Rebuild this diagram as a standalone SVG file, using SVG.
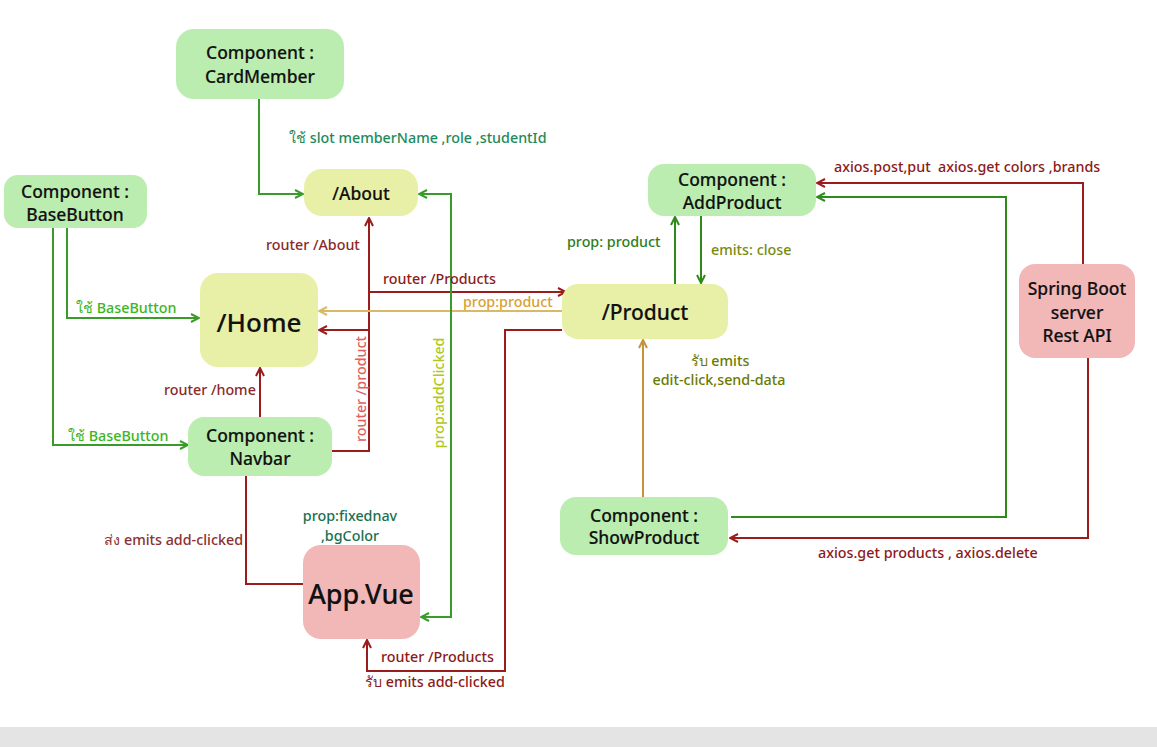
<svg xmlns="http://www.w3.org/2000/svg" width="1157" height="747" viewBox="0 0 1157 747">
<style>
text{font-family:"Noto Sans","Open Sans","DejaVu Sans",sans-serif}
.nt{font-size:17.5px;font-weight:500;fill:#111;text-anchor:middle;stroke:#111;stroke-width:0.15}
.lb{font-size:14.3px;font-weight:500}
.g{fill:#bbedb0}.y{fill:#e8f0a8}.p{fill:#f2b8b8}
.cn path{fill:none;stroke-width:2}
.r{stroke:#9b1c1c}.gr{stroke:#3a9a2a}.dg{stroke:#2e8b1a}.tn{stroke:#d9b868}.or{stroke:#c8923a}
</style>
<defs>
<marker id="ar" viewBox="0 0 10 10" refX="9" refY="5" markerWidth="10" markerHeight="10" markerUnits="userSpaceOnUse" orient="auto-start-reverse"><path d="M1,1 L9,5 L1,9" fill="none" stroke="#9b1c1c" stroke-width="2"/></marker>
<marker id="ag" viewBox="0 0 10 10" refX="9" refY="5" markerWidth="10" markerHeight="10" markerUnits="userSpaceOnUse" orient="auto-start-reverse"><path d="M1,1 L9,5 L1,9" fill="none" stroke="#3a9a2a" stroke-width="2"/></marker>
<marker id="adg" viewBox="0 0 10 10" refX="9" refY="5" markerWidth="10" markerHeight="10" markerUnits="userSpaceOnUse" orient="auto-start-reverse"><path d="M1,1 L9,5 L1,9" fill="none" stroke="#2e8b1a" stroke-width="2"/></marker>
<marker id="at" viewBox="0 0 10 10" refX="9" refY="5" markerWidth="10" markerHeight="10" markerUnits="userSpaceOnUse" orient="auto-start-reverse"><path d="M1,1 L9,5 L1,9" fill="none" stroke="#d9b868" stroke-width="2"/></marker>
<marker id="ao" viewBox="0 0 10 10" refX="9" refY="5" markerWidth="10" markerHeight="10" markerUnits="userSpaceOnUse" orient="auto-start-reverse"><path d="M1,1 L9,5 L1,9" fill="none" stroke="#c8923a" stroke-width="2"/></marker>
</defs>
<rect x="0" y="0" width="1157" height="747" fill="#fff"/>
<rect x="0" y="727" width="1157" height="20" fill="#e4e4e4"/>

<g id="connectors" class="cn">
<path class="gr" d="M259,99 V194 H303" marker-end="url(#ag)"/>
<path class="gr" d="M67,228 V318 H199" marker-end="url(#ag)"/>
<path class="gr" d="M53,228 V445 H188" marker-end="url(#ag)"/>
<path class="r" d="M260,417 V368" marker-end="url(#ar)"/>
<path class="r" d="M332,451 H369 V218" marker-end="url(#ar)"/>
<path class="r" d="M369,330 H319" marker-end="url(#ar)"/>
<path class="r" d="M369,292 H566" marker-end="url(#ar)"/>
<path class="tn" d="M562,311 H319" marker-end="url(#at)"/>
<path class="gr" d="M419,194 H451 V617 H421" marker-start="url(#ag)" marker-end="url(#ag)"/>
<path class="r" d="M562,330 H505 V671 H367 V640" marker-end="url(#ar)"/>
<path class="r" d="M246,476 V584 H303"/>
<path class="dg" d="M675,284 V217" marker-end="url(#adg)"/>
<path class="dg" d="M701,216 V283" marker-end="url(#adg)"/>
<path class="or" d="M643,497 V340" marker-end="url(#ao)"/>
<path class="r" d="M1083,265 V183 H817" marker-end="url(#ar)"/>
<path class="dg" d="M731,517 H1006 V197 H817" marker-end="url(#adg)"/>
<path class="r" d="M1088,358 V538 H730" marker-end="url(#ar)"/>
</g>

<g id="labels" class="lb">
<text x="289" y="143" fill="#1e8a5a">ใช้ slot memberName ,role ,studentId</text>
<text x="266" y="250" fill="#8b2a2a">router /About</text>
<text x="76" y="313" fill="#3cb521">ใช้ BaseButton</text>
<text x="68" y="441" fill="#3cb521">ใช้ BaseButton</text>
<text x="164" y="395" fill="#8b2a2a">router /home</text>
<text x="383" y="284" fill="#8b2020">router /Products</text>
<text x="463" y="307" fill="#d9a030">prop:product</text>
<text transform="translate(366,389) rotate(-90)" text-anchor="middle" fill="#e06060">router /product</text>
<text transform="translate(444,393) rotate(-90)" text-anchor="middle" fill="#b0c820">prop:addClicked</text>
<text x="243" y="545" text-anchor="end" fill="#8b3030">ส่ง emits add-clicked</text>
<text x="350" y="521" text-anchor="middle" fill="#1a7050">prop:fixednav</text>
<text x="350" y="541" text-anchor="middle" fill="#1a7050">,bgColor</text>
<text x="381" y="662" fill="#8b1a1a">router /Products</text>
<text x="365" y="687" fill="#8b1a1a">รับ emits add-clicked</text>
<text x="834" y="172" fill="#8b1a1a" xml:space="preserve">axios.post,put  axios.get colors ,brands</text>
<text x="567" y="247" fill="#2e7d1a">prop: product</text>
<text x="711" y="255" fill="#7a8a10">emits: close</text>
<text x="720" y="366" text-anchor="middle" fill="#6b7a00">รับ emits</text>
<text x="719" y="385" text-anchor="middle" fill="#6b7a00">edit-click,send-data</text>
<text x="818" y="558" fill="#8b1a1a">axios.get products , axios.delete</text>
</g>

<g id="cardmember"><rect class="g" x="176" y="29" width="168" height="70" rx="18"/><text class="nt" x="260" y="59">Component :</text><text class="nt" x="260" y="83">CardMember</text></g>
<g id="basebutton"><rect class="g" x="4" y="175" width="143" height="53" rx="14"/><text class="nt" x="75" y="198">Component :</text><text class="nt" x="75" y="221">BaseButton</text></g>
<g id="about"><rect class="y" x="304" y="169" width="114" height="47" rx="18"/><text class="nt" x="361" y="200">/About</text></g>
<g id="home"><rect class="y" x="200" y="273" width="118" height="94" rx="18"/><text class="nt" x="259" y="332" style="font-size:26px">/Home</text></g>
<g id="navbar"><rect class="g" x="188" y="417" width="144" height="59" rx="16"/><text class="nt" x="260" y="442">Component :</text><text class="nt" x="260" y="465">Navbar</text></g>
<g id="appvue"><rect class="p" x="303" y="545" width="117" height="94" rx="18"/><text class="nt" x="361" y="604" style="font-size:27px">App.Vue</text></g>
<g id="addproduct"><rect class="g" x="648" y="164" width="168" height="52" rx="16"/><text class="nt" x="732" y="186">Component :</text><text class="nt" x="732" y="209">AddProduct</text></g>
<g id="product"><rect class="y" x="562" y="284" width="166" height="55" rx="16"/><text class="nt" x="645" y="320" style="font-size:21px">/Product</text></g>
<g id="springboot"><rect class="p" x="1019" y="264" width="116" height="94" rx="16"/><text class="nt" x="1077" y="295">Spring Boot</text><text class="nt" x="1077" y="319">server</text><text class="nt" x="1077" y="342">Rest API</text></g>
<g id="showproduct"><rect class="g" x="560" y="497" width="168" height="58" rx="16"/><text class="nt" x="644" y="522">Component :</text><text class="nt" x="644" y="544">ShowProduct</text></g>
</svg>
